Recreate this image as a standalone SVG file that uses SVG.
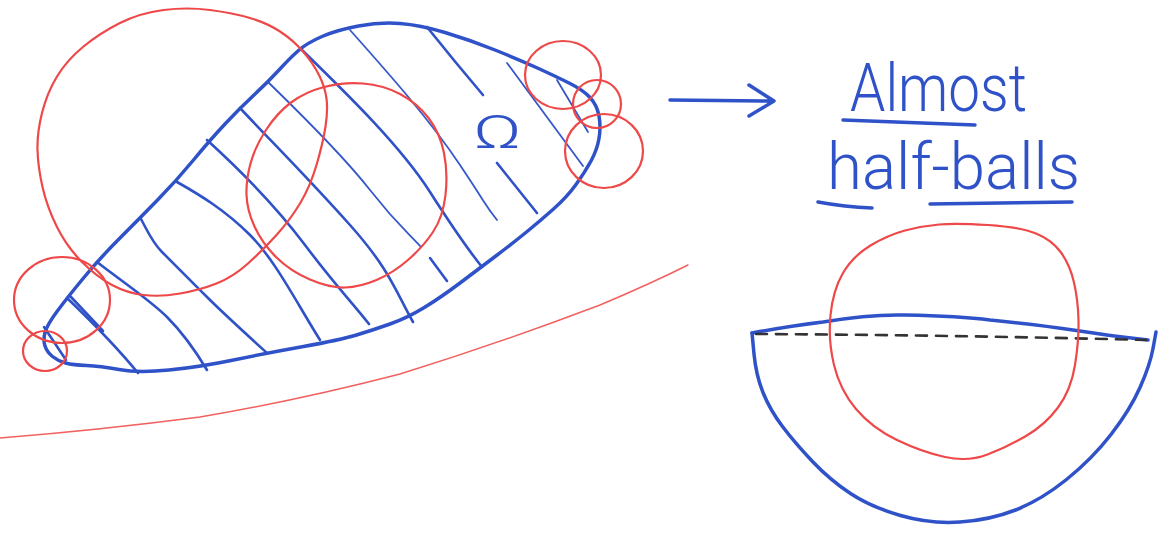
<svg xmlns="http://www.w3.org/2000/svg" width="1162" height="533" viewBox="0 0 1162 533">
<style>
.bl{fill:none;stroke:#2f52c8;stroke-width:3.5;stroke-linecap:round;stroke-linejoin:round}
.h{fill:none;stroke:#2f52c8;stroke-width:2.6;stroke-linecap:round}
.ht{fill:none;stroke:#3558cc;stroke-width:1.8;stroke-linecap:round}
.rd{fill:none;stroke:#ee4848;stroke-width:2.2;stroke-linecap:round}
.rt{fill:none;stroke:#f26060;stroke-width:1.5;stroke-linecap:round}
.dash{fill:none;stroke:#333;stroke-width:2.6;stroke-dasharray:11 9;stroke-linecap:round}
.txt{fill:#2f52c8;font-family:Roboto,"Liberation Sans",sans-serif;font-weight:300}
</style>
<rect width="1162" height="533" fill="#fff"/>
<g id="ground-curve">
<path class="rt" d="M 0,438 Q 100,430 200,417 Q 300,400 400,374 Q 500,343 600,305 Q 650,284 688,265"/>
</g>
<g id="domain-omega">
<path class="bl" d="M 400,23.5 Q 420,25 445,32.5 Q 470,40 495,50 Q 520,60 538.5,68.5 Q 557,77 570,83.5 Q 583,90 590,97.5 Q 597,105 599,116 Q 601,127 599,138.5 Q 597,150 591,161 Q 585,172 576,184.5 Q 567,197 553.5,209 Q 540,221 526.5,232 Q 513,243 496.5,255.5 Q 480,268 460,283 Q 440,298 423.5,308 Q 407,318 390,324 Q 373,330 356.5,335 Q 340,340 303.5,346.5 Q 267,353 233.5,360 Q 200,367 169,370 Q 138,373 119,369.5 Q 100,366 86.5,365.5 Q 73,365 65.5,363 Q 58,361 52.5,356.5 Q 47,352 45,346 Q 43,340 45,332.5 Q 47,325 57,311.5 Q 67,298 83.5,278 Q 100,258 120,238 Q 140,218 158.5,199 Q 177,180 193.5,160 Q 210,140 225,124 Q 240,108 254,95 Q 268,82 279,70 Q 290,58 298.5,50.5 Q 307,43 322,36.5 Q 337,30 358.5,26 Q 380,22 400,23.5 Z"/>
<g id="hatching">
<path class="h" d="M 302,50 C 345,92 400,145 430,192 S 470,252 482,267"/>
<path class="ht" d="M 268,82 C 305,118 345,158 370,190 S 405,230 421,247"/>
<path class="h" d="M 240,108 C 270,140 310,180 350,225 S 395,290 413,322"/>
<path class="h" d="M 207,140 C 240,170 275,205 305,245 S 350,300 369,324"/>
<path class="h" d="M 177,182 C 200,195 225,210 250,235 S 295,300 320,340"/>
<path class="h" d="M 141,219 C 148,232 152,242 162,252 S 190,280 207,297 S 245,333 267,353"/>
<path class="h" d="M 97,262 C 120,280 150,300 167,317 S 195,350 207,370"/>
<path class="h" d="M 67,298 C 90,320 115,345 138,373"/>
<path class="h" d="M 71,297 L 103,331"/>
<path class="h" d="M 44,327 L 66,360"/>
<path class="ht" d="M 350,30 C 390,75 430,120 460,165 S 485,205 497,220"/>
<path class="h" d="M 427,27 Q 455,62 483,95"/>
<path class="ht" d="M 507,63 L 583,166"/>
<path class="ht" d="M 557,80 L 588,132"/>
<path class="h" d="M 497,163 L 537,213"/>
<path class="h" d="M 430,258 L 447,281"/>
</g>
<text class="txt" x="473" y="148" font-size="46" textLength="49" lengthAdjust="spacingAndGlyphs">Ω</text>
</g>
<g id="red-balls">
<path class="rd" d="M 210,10 Q 233,13 250,18 Q 267,23 280,31.5 Q 293,40 303,51.5 Q 313,63 319,75 Q 325,87 326.5,98.5 Q 328,110 325.5,126.5 Q 323,143 316.5,165 Q 310,187 300,203.5 Q 290,220 276.5,235 Q 263,250 248,263.5 Q 233,277 216.5,283.5 Q 200,290 180,293.5 Q 160,297 143.5,295 Q 127,293 112,285 Q 97,277 82,262 Q 67,247 57,227 Q 47,207 42.5,187 Q 38,167 37.5,150 Q 37,133 42,113 Q 47,93 57,76.5 Q 67,60 83.5,46.5 Q 100,33 120,23 Q 140,13 163.5,10 Q 187,7 210,10 Z"/>
<path class="rd" d="M 363,83.5 Q 383,85 400,94 Q 417,103 428.5,118 Q 440,133 444,153 Q 448,173 445.5,195 Q 443,217 433,232 Q 423,247 408,260 Q 393,273 376.5,280 Q 360,287 345,287.5 Q 330,288 310,279.5 Q 290,271 276,257 Q 262,243 254.5,226.5 Q 247,210 246.5,195 Q 246,180 250.5,163.5 Q 255,147 266,130 Q 277,113 291,102.5 Q 305,92 324,87 Q 343,82 363,83.5 Z"/>
<ellipse class="rd" cx="62" cy="300" rx="48" ry="43"/>
<ellipse class="rd" cx="45" cy="351" rx="22" ry="20"/>
<ellipse class="rd" cx="563" cy="75" rx="38" ry="34"/>
<ellipse class="rd" cx="597" cy="104" rx="24" ry="24"/>
<ellipse class="rd" cx="604" cy="151" rx="39" ry="37"/>
</g>
<g id="arrow">
<path class="bl" d="M 670,100 L 774,101 M 749,85 L 774,101 L 749,116"/>
</g>
<g id="label">
<text class="txt" x="850" y="111" font-size="66" textLength="177" lengthAdjust="spacingAndGlyphs">Almost</text>
<text class="txt" x="827" y="189" font-size="64" textLength="253" lengthAdjust="spacingAndGlyphs">half-balls</text>
<path class="bl" d="M 843,120 L 975,125 M 818,202 Q 845,207 872,208 M 930,204 L 1072,202"/>
</g>
<g id="half-ball">
<path class="bl" d="M 752,333 L 754,354 Q 756,375 763,392.5 Q 770,410 782.5,426.5 Q 795,443 812.5,461.5 Q 830,480 850.5,493.5 Q 871,507 900.5,515.5 Q 930,524 960,522 Q 990,520 1015.5,510 Q 1041,500 1066.5,479.5 Q 1092,459 1111,434.5 Q 1130,410 1140,387.5 Q 1150,365 1153,348.5 L 1156,332"/>
<path class="bl" d="M 752,333 Q 790,326 823,322 Q 870,314 905,315 Q 960,316 990,320 Q 1040,325 1073,330 Q 1110,336 1148,340"/>
<path class="dash" d="M 756,334 Q 950,335 1146,340"/>
<path class="rd" d="M 988,225 Q 1020,227 1036,233.5 Q 1052,240 1061,252.5 Q 1070,265 1074,282.5 Q 1078,300 1078.5,320 Q 1079,340 1075,365 Q 1071,390 1058,407.5 Q 1045,425 1026,436 Q 1007,447 987.5,454.5 Q 968,462 945,457 Q 922,452 897,440 Q 872,428 856,409 Q 840,390 834,365 Q 828,340 830.5,315 Q 833,290 843,273 Q 853,256 870.5,245.5 Q 888,235 905,230.5 Q 922,226 939,224.5 Q 956,223 988,225 Z"/>
</g>
</svg>
